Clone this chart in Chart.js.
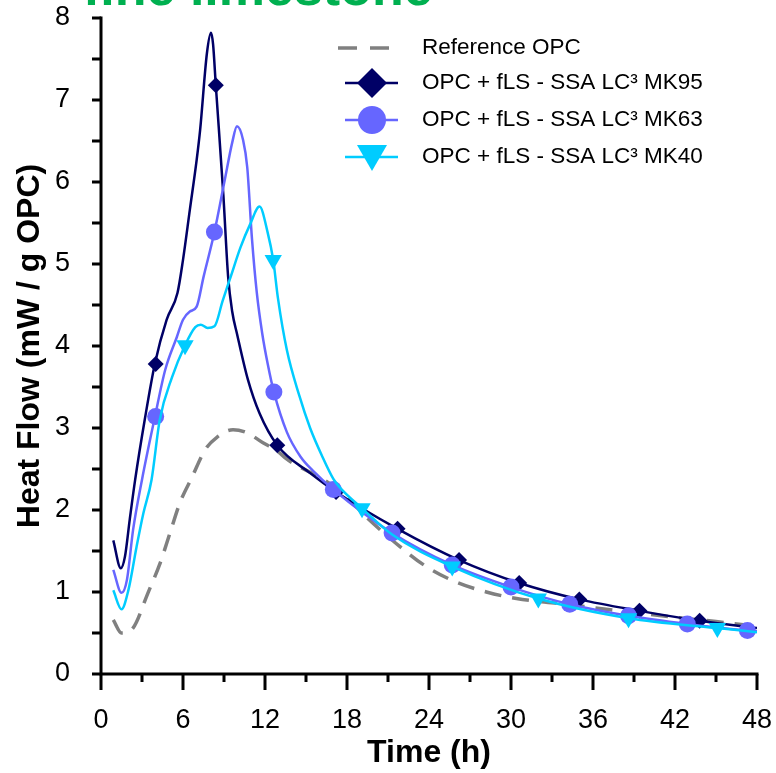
<!DOCTYPE html>
<html>
<head>
<meta charset="utf-8">
<script src="https://cdn.jsdelivr.net/npm/chart.js@4.4.0/dist/chart.umd.min.js"></script>
<style>
  html, body { margin: 0; padding: 0; background: #fff; }
  #wrap { position: relative; width: 776px; height: 773px; }
</style>
</head>
<body>
<div id="wrap"><canvas id="grafico" width="776" height="773"></canvas></div>
<script>
// Tiempo (h) y flujo de calor (mW / g OPC)
const tRef = [0.9, 1.5, 2.34, 3.44, 4.32, 5.05, 5.78, 6.66, 7.6, 8.5, 9.66, 10.7, 11.85, 12.9, 13.6, 14.6, 16.0, 17.7, 19.5, 21.9, 23.8, 26.0, 28.2, 30.4, 33.5, 36.5, 39.5, 42.6, 45.0, 48];
const vRef = [0.66, 0.50, 0.56, 0.99, 1.35, 1.72, 2.09, 2.40, 2.73, 2.89, 2.98, 2.94, 2.82, 2.72, 2.62, 2.52, 2.40, 2.20, 1.90, 1.55, 1.31, 1.12, 1.00, 0.92, 0.86, 0.80, 0.74, 0.68, 0.64, 0.58];

const tMK95 = [0.9, 1.45, 1.75, 2.1, 2.5, 3.2, 3.95, 4.8, 5.6, 6.0, 6.5, 7.0, 7.25, 7.75, 8.05, 8.2, 8.4, 8.95, 9.3, 9.6, 9.95, 10.75, 11.6, 12.9, 15.3, 17.2, 21.7, 26.2, 30.6, 35.0, 39.4, 43.8, 48];
const vMK95 = [1.63, 1.29, 1.43, 1.88, 2.37, 3.10, 3.79, 4.32, 4.65, 5.05, 5.66, 6.27, 6.63, 7.57, 7.82, 7.68, 7.18, 5.85, 4.85, 4.42, 4.15, 3.59, 3.18, 2.79, 2.45, 2.22, 1.77, 1.39, 1.11, 0.91, 0.77, 0.65, 0.56];
const tMK95m = [4.0, 8.4, 12.9, 17.2, 21.7, 26.2, 30.6, 35.0, 39.4, 43.8];
const vMK95m = [3.78, 7.18, 2.79, 2.22, 1.77, 1.39, 1.11, 0.91, 0.77, 0.65];

const tMK63 = [0.9, 1.5, 1.9, 2.35, 3.0, 3.95, 4.7, 5.55, 6.0, 6.5, 7.0, 7.5, 8.3, 9.05, 9.6, 9.95, 10.4, 10.7, 11.05, 11.4, 11.8, 12.2, 12.65, 13.6, 14.6, 15.5, 17.0, 21.3, 25.7, 30.0, 34.3, 38.6, 42.9, 47.3, 48];
const vMK63 = [1.27, 0.99, 1.15, 1.76, 2.37, 3.14, 3.71, 4.11, 4.32, 4.42, 4.48, 4.84, 5.39, 6.02, 6.48, 6.68, 6.51, 6.18, 5.30, 4.65, 4.15, 3.78, 3.44, 2.95, 2.65, 2.48, 2.25, 1.72, 1.33, 1.06, 0.85, 0.71, 0.61, 0.53, 0.52];
const tMK63m = [4.0, 8.3, 12.65, 17.0, 21.3, 25.7, 30.0, 34.3, 38.6, 42.9, 47.3];
const vMK63m = [3.14, 5.39, 3.44, 2.25, 1.72, 1.33, 1.06, 0.85, 0.71, 0.61, 0.53];

const tMK40 = [0.9, 1.5, 2.0, 2.6, 3.1, 3.7, 4.3, 5.2, 6.15, 6.9, 7.3, 7.8, 8.3, 8.9, 9.5, 10.2, 10.9, 11.6, 12.2, 12.6, 12.95, 13.6, 14.5, 15.3, 16.2, 17.0, 17.5, 19.1, 21.3, 25.7, 32.0, 38.6, 45.1, 48];
const vMK40 = [1.02, 0.79, 1.02, 1.55, 1.96, 2.37, 3.10, 3.62, 4.01, 4.23, 4.26, 4.22, 4.24, 4.55, 4.85, 5.20, 5.48, 5.70, 5.38, 5.05, 4.58, 3.95, 3.40, 3.00, 2.65, 2.38, 2.27, 2.02, 1.70, 1.31, 0.92, 0.68, 0.56, 0.51];
const tMK40m = [6.15, 12.6, 19.1, 25.7, 32.0, 38.6, 45.1];
const vMK40m = [4.01, 5.05, 2.02, 1.31, 0.92, 0.68, 0.56];

const etiquetas = ["Reference OPC", "OPC + fLS - SSA LC\u00b3 MK95", "OPC + fLS - SSA LC\u00b3 MK63", "OPC + fLS - SSA LC\u00b3 MK40"];
const titulo = "fine limestone";

const FUENTE = 'Arial, "Liberation Sans", sans-serif';
const GRIS = '#808080', AZUL = '#000066', LILA = '#6666ff', CIAN = '#00ccff';

const puntos = (ts, vs) => ts.map((t, i) => ({ x: t, y: vs[i] }));

const linea = (label, ts, vs, color, orden, extra) => Object.assign({
    label: label,
    data: puntos(ts, vs),
    borderColor: color,
    backgroundColor: color,
    borderWidth: 2.5,
    pointRadius: 0,
    cubicInterpolationMode: 'monotone',
    fill: false,
    order: orden
}, extra || {});

const marcas = (label, ts, vs, color, estilo, radio, orden, rot) => ({
    label: label,
    data: puntos(ts, vs),
    showLine: false,
    pointStyle: estilo,
    pointRadius: radio,
    pointRotation: rot || 0,
    pointBorderWidth: 0,
    pointBackgroundColor: color,
    pointBorderColor: color,
    order: orden
});

// sin relleno extra por etiquetas que sobresalen
const sinRelleno = s => {
    s.paddingTop = 0; s.paddingBottom = 0;
    s.paddingLeft = 0; s.paddingRight = 0;
};

// ejes con marcas mayores y menores, leyenda y titulo cortado
const ejesPlugin = {
    id: 'ejes',
    afterDraw(chart) {
        const ctx = chart.ctx;
        const ca = chart.chartArea;
        const xs = chart.scales.x, ys = chart.scales.y;
        ctx.save();
        ctx.strokeStyle = '#000';
        ctx.lineWidth = 3;
        ctx.lineCap = 'butt';
        ctx.beginPath();
        ctx.moveTo(ca.left, ca.top - 1.5);
        ctx.lineTo(ca.left, ca.bottom);
        ctx.lineTo(ca.right + 1.5, ca.bottom);
        ctx.stroke();
        ctx.beginPath();
        xs.ticks.forEach(tk => {
            const px = xs.getPixelForValue(tk.value);
            const largo = tk.value % 6 === 0 ? 16 : 8;
            ctx.moveTo(px, ca.bottom);
            ctx.lineTo(px, ca.bottom + largo);
        });
        ys.ticks.forEach(tk => {
            const py = ys.getPixelForValue(tk.value);
            ctx.moveTo(ca.left, py);
            ctx.lineTo(ca.left - 9, py);
        });
        ctx.stroke();

        // titulo (solo se ve la parte baja)
        ctx.fillStyle = '#00b050';
        ctx.font = 'bold 52px ' + FUENTE;
        ctx.textBaseline = 'alphabetic';
        ctx.textAlign = 'left';
        ctx.fillText(titulo, 83, 5);

        // leyenda
        const filas = [48, 83, 120, 157];
        const colores = [GRIS, AZUL, LILA, CIAN];
        ctx.font = '22.5px ' + FUENTE;
        ctx.textBaseline = 'middle';
        filas.forEach((y, i) => {
            ctx.strokeStyle = colores[i];
            ctx.fillStyle = colores[i];
            ctx.beginPath();
            if (i === 0) {
                ctx.lineWidth = 3.5;
                ctx.setLineDash([19, 13]);
                ctx.moveTo(338, y);
                ctx.lineTo(390, y);
            } else {
                ctx.lineWidth = 2.5;
                ctx.setLineDash([]);
                ctx.moveTo(345, y);
                ctx.lineTo(398, y);
            }
            ctx.stroke();
            ctx.setLineDash([]);
            const cx = 372;
            ctx.beginPath();
            if (i === 1) {
                ctx.moveTo(cx - 15, y); ctx.lineTo(cx, y - 15);
                ctx.lineTo(cx + 15, y); ctx.lineTo(cx, y + 15);
                ctx.closePath(); ctx.fill();
            } else if (i === 2) {
                ctx.arc(cx, y, 14, 0, Math.PI * 2); ctx.fill();
            } else if (i === 3) {
                ctx.moveTo(cx - 15, y - 12); ctx.lineTo(cx + 15, y - 12);
                ctx.lineTo(cx, y + 14); ctx.closePath(); ctx.fill();
            }
            ctx.fillStyle = '#000';
            ctx.fillText(etiquetas[i], 422, y);
        });
        ctx.restore();
    }
};

const chart = new Chart(document.getElementById('grafico'), {
    type: 'line',
    data: {
        datasets: [
            marcas(etiquetas[3], tMK40m, vMK40m, CIAN, 'triangle', 10, 0, 180),
            linea(etiquetas[3], tMK40, vMK40, CIAN, 1),
            marcas(etiquetas[2], tMK63m, vMK63m, LILA, 'circle', 8.5, 2),
            linea(etiquetas[2], tMK63, vMK63, LILA, 3),
            marcas(etiquetas[1], tMK95m, vMK95m, AZUL, 'rectRot', 8, 4),
            linea(etiquetas[1], tMK95, vMK95, AZUL, 5),
            linea(etiquetas[0], tRef, vRef, GRIS, 6, { borderWidth: 3.5, borderDash: [17, 11] })
        ]
    },
    options: {
        responsive: false,
        animation: false,
        devicePixelRatio: 1,
        layout: { padding: { top: 18, right: 19, left: 0, bottom: 0 } },
        plugins: {
            legend: { display: false },
            tooltip: { enabled: false }
        },
        scales: {
            x: {
                type: 'linear',
                min: 0,
                max: 48,
                grid: { display: false, drawTicks: false },
                border: { display: false },
                afterFit: s => { s.height = 99; sinRelleno(s); },
                ticks: {
                    stepSize: 3,
                    padding: 30,
                    color: '#000',
                    font: { family: FUENTE, size: 27 },
                    maxRotation: 0,
                    autoSkip: false,
                    callback: v => (v % 6 === 0 ? String(v) : '')
                },
                title: {
                    display: true,
                    text: 'Time (h)',
                    color: '#000',
                    font: { family: FUENTE, size: 32, weight: 'bold' },
                    padding: { top: 0, bottom: 1 }
                }
            },
            y: {
                type: 'linear',
                min: 0,
                max: 8,
                grid: { display: false, drawTicks: false },
                border: { display: false },
                afterFit: s => { s.width = 101; sinRelleno(s); },
                ticks: {
                    stepSize: 0.5,
                    padding: 31,
                    color: '#000',
                    font: { family: FUENTE, size: 27 },
                    autoSkip: false,
                    callback: v => (Number.isInteger(v) ? String(v) : '')
                },
                title: {
                    display: true,
                    text: 'Heat Flow (mW / g OPC)',
                    color: '#000',
                    font: { family: FUENTE, size: 32, weight: 'bold' },
                    padding: { top: 11, bottom: 0 }
                }
            }
        }
    },
    plugins: [ejesPlugin]
});
</script>
</body>
</html>
